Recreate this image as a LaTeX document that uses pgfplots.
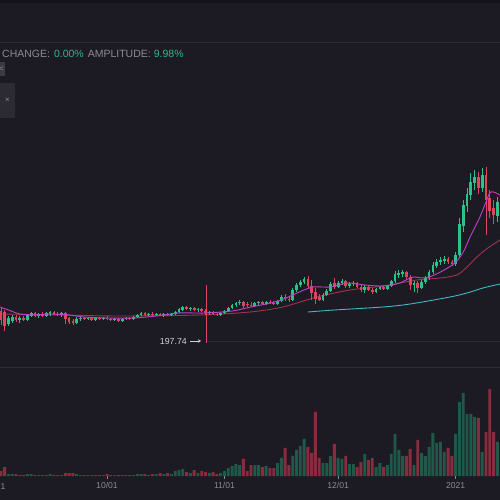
\documentclass[border=0pt]{standalone}
\usepackage{pgfplots}
\pgfplotsset{compat=1.18}
\usepackage{pgfplotstable}
\usetikzlibrary{arrows.meta}
\usepackage{fontspec}
\setmainfont{Liberation Sans}
\definecolor{bg}{HTML}{1C1B23}
\definecolor{bgdark}{HTML}{141319}
\definecolor{sep}{HTML}{2C2B35}
\definecolor{cgreen}{HTML}{2BC28A}
\definecolor{cred}{HTML}{E0455E}
\definecolor{vgreen}{HTML}{1D5A4A}
\definecolor{vred}{HTML}{8A2C40}
\definecolor{mamag}{HTML}{C23FCC}
\definecolor{mared}{HTML}{A52F4E}
\definecolor{macyan}{HTML}{3CB8C6}
\definecolor{txtgray}{HTML}{8C8B96}
\definecolor{valgreen}{HTML}{2EB886}
\definecolor{boxgray}{HTML}{2C2B34}
\definecolor{boxgray2}{HTML}{3A3944}

% rising candles: day open high low close volume
\pgfplotstableread{
d o h l c v
4 176 184 174 182 2
5 179 185 177 183 2
7 180 184 177 182 1
9 180 186 179 185 2
10 184 188 183 187 2
12 184 187 182 186 1
14 184 188 183 187 1
15 186 189 184 188 2
18 185 188 183 187 1
22 177 183 176 181 2
23 181 184 179 182 1
25 181 183 180 182 1
27 180 183 179 182 1
29 181 183 180 182 1
32 180 182 179 181 1
34 179 182 178 181 1
35 181 183 180 182 1
37 181 184 180 183 1
38 183 186 182 185 2
39 185 188 184 187 2
41 185 187 184 186 1
43 185 187 184 186 2
45 185 187 183 186 2
47 185 187 184 186 2
48 186 189 185 188 5
49 188 192 187 191 6
50 190 194 189 193 7
52 191 193 189 192 3
54 190 192 188 191 3
57 187 189 185 188 3
60 185 188 184 187 3
61 187 190 186 189 5
62 189 193 188 192 8
63 192 196 191 195 10
64 195 198 193 197 12
65 197 200 195 198 11
69 194 198 193 197 11
70 197 199 195 198 11
72 196 199 195 198 10
75 196 200 195 199 13
76 199 205 198 203 18
79 200 212 199 210 20
80 210 217 208 215 26
81 215 220 213 218 30
82 218 223 216 221 37
87 200 207 199 205 13
88 205 211 204 209 13
89 209 218 208 216 20
91 213 219 212 217 18
92 217 221 215 219 17
94 214 218 212 216 12
95 216 219 214 217 12
98 210 215 207 213 22
101 208 212 207 211 9
102 211 214 210 213 13
104 211 215 210 214 11
105 214 220 213 219 22
106 219 229 217 226 42
107 225 230 222 227 26
108 226 230 223 228 20
111 215 219 208 217 11
113 212 220 211 218 23
114 218 224 216 222 20
115 222 230 220 228 29
116 228 238 226 235 43
117 234 241 232 238 33
118 238 243 235 240 34
119 239 244 236 241 24
122 236 248 234 245 42
123 245 282 243 276 74
124 274 300 268 295 83
125 294 312 288 306 62
126 305 327 300 318 62
127 317 330 310 323 59
129 312 332 308 325 24
133 284 303 278 298 34
}\upc

% falling candles
\pgfplotstableread{
d o h l c v
2 189 193 175 180 5
3 188 190 169 174 9
6 183 185 178 180 2
8 182 184 179 180 1
11 187 188 183 184 1
13 186 188 183 184 1
16 188 189 185 186 1
17 186 188 184 185 1
19 187 188 176 181 3
20 182 183 176 178 3
21 179 181 175 177 3
24 182 183 180 181 1
26 182 183 179 180 1
28 182 183 180 181 1
30 182 184 180 181 2
31 181 182 179 180 1
33 181 182 178 179 1
36 182 183 180 181 1
40 187 188 184 185 2
42 186 188 184 185 2
44 186 187 184 185 3
46 186 187 184 185 3
51 193 194 190 191 4
53 192 193 189 190 6
55 191 192 188 189 5
56 189 191 185 187 4
58 188 189 185 186 4
59 186 188 184 185 2
66 198 199 192 194 17
67 196 198 193 195 5
68 195 198 193 194 11
71 198 199 195 196 9
73 198 200 196 197 8
74 197 199 195 196 8
77 203 206 199 201 28
78 201 203 198 200 11
83 221 224 212 214 29
84 214 220 200 207 23
85 208 212 196 201 64
86 203 206 199 200 18
90 217 222 211 213 32
93 219 220 212 214 20
96 217 218 212 213 9
97 213 215 208 210 14
99 213 214 209 210 16
100 210 212 206 208 18
103 213 214 210 211 9
109 228 229 221 223 20
110 223 225 210 215 27
112 217 219 207 212 36
120 241 243 236 238 28
121 238 240 234 236 20
128 323 328 306 312 58
130 325 333 265 300 44
131 302 310 282 289 87
132 292 300 276 285 44
}\downc

\pgfplotsset{
  wick/.style={draw=none, mark=none, forget plot,
    error bars/.cd, y dir=both, y explicit, error mark=none,
    error bar style={line width=0.7pt, draw=#1, solid}},
  body/.style={draw=none, mark=none, forget plot,
    error bars/.cd, y dir=both, y explicit, error mark=none,
    error bar style={line width=2.7pt, line cap=butt, draw=#1, solid}},
}

\begin{document}
\begin{tikzpicture}[x=1pt,y=1pt]
\useasboundingbox (0,0) rectangle (500,500);
\fill[bg] (0,0) rectangle (500,500);
\fill[bgdark] (0,496.5) rectangle (500,500);
\draw[sep, line width=0.6pt] (0,457.5) -- (500,457.5);
\draw[sep, line width=0.6pt] (0,133) -- (500,133);
\draw[sep, line width=0.6pt] (206,159) -- (500,159);
% header
\node[anchor=base west, inner sep=0pt, font=\fontsize{10.5}{12}\selectfont] at (2,442.5)
  {\textcolor{txtgray}{CHANGE:}\hspace{4pt}\textcolor{valgreen}{0.00\%}\hspace{4pt}\textcolor{txtgray}{AMPLITUDE:}\hspace{3pt}\textcolor{valgreen}{9.98\%}};
\fill[boxgray2] (0,424) rectangle (5,438);
\node[text=txtgray, font=\fontsize{8}{9}\selectfont, inner sep=0pt] at (1.5,431) {<};
\fill[boxgray] (0,382) rectangle (15,417);
\node[text=txtgray, font=\fontsize{8}{9}\selectfont, inner sep=0pt] at (7.5,400) {×};

\begin{axis}[at={(0,0)}, anchor=south west, scale only axis, width=500pt, height=500pt,
  xmin=1.768, xmax=133.7, ymin=0, ymax=500, hide axis, clip=true]
% moving averages
\addplot[mared, line width=0.9pt, smooth] coordinates {(1.77,186) (17.6,185) (33.4,184) (54.5,185) (67.7,188) (76.4,193) (85.4,203) (94.1,210) (102.8,214) (111.8,220) (117.9,222) (122.3,225) (125,233) (127.6,243) (130.5,252) (133.7,260)};
\addplot[macyan, line width=0.9pt, smooth] coordinates {(83,188) (90,190) (102.8,193) (110,196) (120.5,203) (125,207) (129.2,212) (133.7,216)};
% wicks
\addplot[wick=cgreen] table[x=d, y expr={(\thisrow{h}+\thisrow{l})/2}, y error expr={(\thisrow{h}-\thisrow{l})/2}] {\upc};
\addplot[wick=cred] table[x=d, y expr={(\thisrow{h}+\thisrow{l})/2}, y error expr={(\thisrow{h}-\thisrow{l})/2}] {\downc};
% bodies
\addplot[body=cgreen] table[x=d, y expr={(\thisrow{o}+\thisrow{c})/2}, y error expr={(\thisrow{c}-\thisrow{o})/2+0.4}] {\upc};
\addplot[body=cred] table[x=d, y expr={(\thisrow{o}+\thisrow{c})/2}, y error expr={(\thisrow{o}-\thisrow{c})/2+0.4}] {\downc};
\addplot[mamag, line width=0.9pt, smooth] coordinates {(1.77,193) (4,190) (7,186) (11,185) (15,186) (20,185) (24,183) (30,182) (37,182) (43,184) (49,187) (56,187) (63,189) (68,193) (72,196) (76,200) (79,205) (82,210) (84.4,213) (87,213) (89,213) (91,215) (94,217) (98,215) (102,214) (105,215) (107.3,217) (110,222) (111.3,223) (113,222) (115,223) (118,228) (121.8,237) (124,248) (125.8,263) (127,272) (128.4,283) (130,298) (131,307) (132,308) (133.7,305)};
\end{axis}

\begin{axis}[at={(0,24)}, anchor=south west, scale only axis, width=500pt, height=110pt,
  xmin=1.768, xmax=133.7, ymin=0, ymax=110, axis line style={draw=none},
  ytick=\empty, xtick={30,61,91,122}, xticklabels={10/01,11/01,12/01,2021},
  xtick pos=bottom, tick align=outside, major tick length=2.5pt,
  tick style={color=txtgray, line width=0.6pt},
  xticklabel style={text=txtgray, font=\fontsize{8.6}{10}\selectfont, inner sep=1pt, yshift=-3pt},
  clip=true]
\addplot[ybar, bar width=2.9pt, bar shift=0pt, fill=vgreen, draw=none] table[x=d, y=v] {\upc};
\addplot[ybar, bar width=2.9pt, bar shift=0pt, fill=vred, draw=none] table[x=d, y=v] {\downc};
\end{axis}
\node[text=txtgray, font=\fontsize{8.6}{10}\selectfont, inner sep=0pt, anchor=north west] at (0.5,17) {1};
% low marker
\draw[cred, line width=0.8pt] (206,215) -- (206,157);
\node[anchor=east, text=white!80!bg, font=\fontsize{8.8}{10}\selectfont, inner sep=0pt] at (187,159) {197.74};
\draw[white!80!bg, line width=0.7pt, -{Stealth[length=3pt,width=3.5pt]}] (190,159) -- (201,159);
\end{tikzpicture}
\end{document}
